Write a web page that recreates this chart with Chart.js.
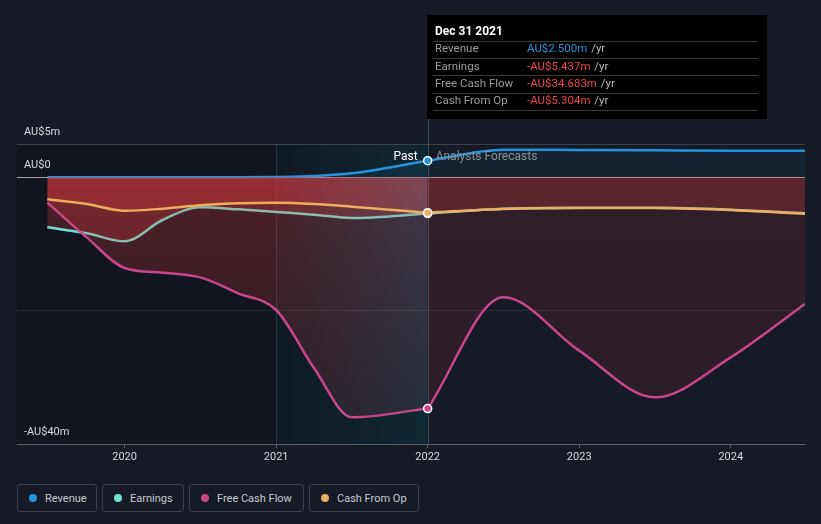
<!DOCTYPE html>
<html>
<head>
<meta charset="utf-8">
<script src="https://cdn.jsdelivr.net/npm/chart.js@4.4.0/dist/chart.umd.min.js"></script>
<style>
  html, body { margin: 0; padding: 0; background: #151a24; }
  body { width: 821px; height: 524px; position: relative; overflow: hidden; font-family: Roboto, sans-serif; }
  #wrap { position: absolute; left: 0; top: 0; width: 821px; height: 480px; }
  #legend { position: absolute; left: 17px; top: 484px; display: flex; gap: 5px; }
  .item { box-sizing: border-box; height: 28px; border: 1px solid #3a3f49; border-radius: 3px;
          display: flex; align-items: center; padding-left: 11px; color: #c8cacf; font-size: 11px; }
  .dot { width: 8px; height: 8px; border-radius: 50%; margin-right: 8px; }
</style>
</head>
<body>
<div id="wrap"><canvas id="chart" width="821" height="480"></canvas></div>
<div id="legend"></div>
<script>
// values in AU$ millions, x in decimal years
const pastDates = [2019.49, 2019.75, 2020.0, 2020.25, 2020.5, 2020.75, 2021.0, 2021.25, 2021.5, 2022.0];
const forecastDates = [2022.0, 2022.5, 2023.0, 2023.5, 2024.0, 2024.49];

const revenuePast = [0, 0, 0, 0, 0, 0, 0.05, 0.2, 0.6, 2.5];
const revenueForecast = [2.5, 4.15, 4.1, 4.05, 4.0, 3.97];
const earningsPast = [-7.5, -8.4, -9.6, -6.4, -4.5, -4.8, -5.2, -5.6, -6.1, -5.437];
const earningsForecast = [-5.437, -4.7, -4.55, -4.55, -4.85, -5.4];
const fcfPast = [-3.8, -9.0, -13.6, -14.3, -15.0, -17.4, -19.9, -28.6, -36.0, -34.683];
const fcfForecast = [-34.683, -18.0, -26.0, -33.0, -27.0, -19.0];
const cfoPast = [-3.3, -4.0, -5.0, -4.7, -4.2, -3.9, -3.8, -4.0, -4.4, -5.304];
const cfoForecast = [-5.304, -4.75, -4.6, -4.6, -4.9, -5.45];

const seriesNames = ['Revenue', 'Earnings', 'Free Cash Flow', 'Cash From Op'];
const seriesColors = ['#2394df', '#6fe3d4', '#c8478b', '#ebaf5f'];
const legendWidths = [80, 82, 115, 110];

const yTicks = [5, 0, -20, -40];
const yLabels = ['AU$5m', 'AU$0', '', '-AU$40m'];
const xTicks = [2020, 2021, 2022, 2023, 2024];
const tooltipTitle = 'Dec 31 2021';
const highlightStart = 2021.0;
const pastEnd = 2022.0;

// legend
const legend = document.getElementById('legend');
seriesNames.forEach((name, i) => {
  const item = document.createElement('div');
  item.className = 'item';
  item.style.width = legendWidths[i] + 'px';
  const dot = document.createElement('span');
  dot.className = 'dot';
  dot.style.background = seriesColors[i];
  item.appendChild(dot);
  const label = document.createElement('span');
  label.textContent = name;
  item.appendChild(label);
  legend.appendChild(item);
});

function pts(dates, vals) {
  return dates.map((d, i) => ({ x: d, y: vals[i] }));
}

const fillCache = {};
function redFill(past) {
  return ctx => {
    const chart = ctx.chart;
    const area = chart.chartArea;
    if (!area || !chart.scales.y) return 'rgba(0,0,0,0)';
    const key = (past ? 'p' : 'f') + area.top + '_' + area.bottom;
    if (fillCache[key]) return fillCache[key];
    const c = document.createElement('canvas');
    c.width = chart.width;
    c.height = chart.height;
    const g = c.getContext('2d');
    const y0 = chart.scales.y.getPixelForValue(0);
    const v = g.createLinearGradient(0, y0, 0, area.bottom);
    if (past) {
      v.addColorStop(0, 'rgba(230,60,65,0.28)');
      v.addColorStop(1, 'rgba(230,60,65,0.12)');
    } else {
      v.addColorStop(0, 'rgba(230,60,65,0.13)');
      v.addColorStop(1, 'rgba(230,60,65,0.11)');
    }
    g.fillStyle = v;
    g.fillRect(0, 0, c.width, c.height);
    if (past) {
      const xs = chart.scales.x;
      const h = g.createLinearGradient(xs.getPixelForValue(highlightStart), 0, xs.getPixelForValue(pastEnd), 0);
      h.addColorStop(0, 'rgba(150,120,150,0)');
      h.addColorStop(1, 'rgba(150,120,150,0.5)');
      g.globalCompositeOperation = 'source-atop';
      g.fillStyle = h;
      g.fillRect(0, 0, c.width, c.height);
    }
    fillCache[key] = chart.ctx.createPattern(c, 'no-repeat');
    return fillCache[key];
  };
}

function lastPoint(r) {
  return ctx => (ctx.dataIndex === pastDates.length - 1 ? r : 0);
}

function series(label, data, color, order, fill, isPast) {
  return {
    label,
    data,
    borderColor: color,
    borderWidth: 2.5,
    backgroundColor: fill,
    fill: 'origin',
    order,
    cubicInterpolationMode: 'monotone',
    pointRadius: isPast ? lastPoint(4) : 0,
    pointBackgroundColor: color,
    pointBorderColor: '#ffffff',
    pointBorderWidth: 1.5
  };
}

const fmt = v => (v < 0 ? '-AU$' : 'AU$') + Math.abs(v).toFixed(3) + 'm';

const decor = {
  id: 'decor',
  beforeDraw(chart) {
    const { ctx, chartArea: a, scales: { x } } = chart;
    const xh = x.getPixelForValue(highlightStart);
    const xp = x.getPixelForValue(pastEnd);
    ctx.save();
    ctx.fillStyle = 'rgba(0,0,0,0.16)';
    ctx.fillRect(a.left, a.top, xp - a.left, a.bottom - a.top);
    const g = ctx.createLinearGradient(xh, 0, xp, 0);
    g.addColorStop(0, 'rgba(0,140,170,0.03)');
    g.addColorStop(1, 'rgba(0,140,170,0.16)');
    ctx.fillStyle = g;
    ctx.fillRect(xh, a.top, xp - xh, a.bottom - a.top);
    ctx.restore();
  },
  beforeDatasetsDraw(chart) {
    const { ctx, chartArea: a, scales: { x } } = chart;
    const xh = Math.round(x.getPixelForValue(highlightStart)) + 0.5;
    const xp = Math.round(x.getPixelForValue(pastEnd)) + 0.5;
    ctx.save();
    ctx.lineWidth = 1;
    ctx.strokeStyle = 'rgba(70,120,140,0.35)';
    ctx.beginPath();
    ctx.moveTo(xh, a.top);
    ctx.lineTo(xh, a.bottom);
    ctx.stroke();
    ctx.strokeStyle = 'rgba(90,140,160,0.45)';
    ctx.beginPath();
    ctx.moveTo(xp, 119);
    ctx.lineTo(xp, a.bottom);
    ctx.stroke();
    ctx.restore();
  },
  afterDatasetsDraw(chart) {
    const { ctx, scales: { x, y } } = chart;
    const xp = x.getPixelForValue(pastEnd);
    const ty = y.getPixelForValue(revenuePast[revenuePast.length - 1]) - 4;
    ctx.save();
    ctx.font = '12px Roboto';
    ctx.textBaseline = 'middle';
    ctx.textAlign = 'right';
    ctx.fillStyle = '#ffffff';
    ctx.fillText('Past', xp - 10, ty);
    ctx.textAlign = 'left';
    ctx.fillStyle = '#8c9097';
    ctx.fillText('Analysts Forecasts', xp + 8, ty);
    ctx.restore();
  },
  afterDraw(chart) {
    const ctx = chart.ctx;
    const i = pastDates.length - 1;
    const rows = [
      [seriesNames[0], revenuePast[i]],
      [seriesNames[1], earningsPast[i]],
      [seriesNames[2], fcfPast[i]],
      [seriesNames[3], cfoPast[i]]
    ];
    ctx.save();
    ctx.fillStyle = '#000000';
    ctx.fillRect(427, 15, 340, 104);
    ctx.textBaseline = 'middle';
    ctx.textAlign = 'left';
    ctx.font = 'bold 12px Roboto';
    ctx.fillStyle = '#ffffff';
    ctx.fillText(tooltipTitle, 435, 31.5);
    ctx.strokeStyle = '#3a3a3a';
    ctx.lineWidth = 1;
    [41.5, 58.5, 75.5, 93.5, 110.5].forEach(ly => {
      ctx.beginPath();
      ctx.moveTo(433, ly);
      ctx.lineTo(758, ly);
      ctx.stroke();
    });
    ctx.font = '11.5px Roboto';
    rows.forEach((r, k) => {
      const ry = 49.5 + k * 17.2;
      ctx.fillStyle = '#9a9ca0';
      ctx.fillText(r[0], 435, ry);
      const val = fmt(r[1]);
      ctx.fillStyle = r[1] < 0 ? '#ee4449' : '#2394df';
      ctx.fillText(val, 527, ry);
      const w = ctx.measureText(val).width;
      ctx.fillStyle = '#b8babe';
      ctx.fillText(' /yr', 527 + w + 1, ry);
    });
    ctx.restore();
  }
};

const blueFill = 'rgba(35,148,223,0.08)';

new Chart(document.getElementById('chart'), {
  type: 'line',
  data: {
    datasets: [
      series('Revenue', pts(pastDates, revenuePast), seriesColors[0], 4, blueFill, true),
      series('Revenue forecast', pts(forecastDates, revenueForecast), seriesColors[0], 4, blueFill, false),
      series('Earnings', pts(pastDates, earningsPast), seriesColors[1], 3, redFill(true), true),
      series('Earnings forecast', pts(forecastDates, earningsForecast), seriesColors[1], 3, redFill(false), false),
      series('Free Cash Flow', pts(pastDates, fcfPast), seriesColors[2], 2, redFill(true), true),
      series('Free Cash Flow forecast', pts(forecastDates, fcfForecast), seriesColors[2], 2, redFill(false), false),
      series('Cash From Op', pts(pastDates, cfoPast), seriesColors[3], 1, redFill(true), true),
      series('Cash From Op forecast', pts(forecastDates, cfoForecast), seriesColors[3], 1, redFill(false), false)
    ]
  },
  options: {
    responsive: false,
    animation: false,
    events: [],
    layout: { padding: { top: 144, left: 17, right: 16, bottom: 0 } },
    plugins: { legend: { display: false }, tooltip: { enabled: false } },
    scales: {
      x: {
        type: 'linear',
        min: 2019.29,
        max: 2024.49,
        afterBuildTicks: s => { s.ticks = xTicks.map(v => ({ value: v })); },
        afterFit: s => { s.height = 36; },
        ticks: {
          color: '#d9dadd',
          font: { family: 'Roboto', size: 11 },
          padding: 3,
          maxRotation: 0,
          autoSkip: false,
          callback: v => String(v)
        },
        grid: { drawOnChartArea: false, drawTicks: true, tickLength: 4, color: '#5b5f67' },
        border: { display: true, color: '#5b5f67' }
      },
      y: {
        min: -40,
        max: 5,
        afterBuildTicks: s => { s.ticks = yTicks.map(v => ({ value: v })); },
        afterFit: s => { s.width = 0; },
        ticks: {
          mirror: true,
          padding: 7,
          labelOffset: -12,
          color: '#d9dadd',
          font: { family: 'Roboto', size: 11 },
          callback: v => yLabels[yTicks.indexOf(v)]
        },
        grid: {
          drawTicks: false,
          color: c => {
            const v = c.tick && c.tick.value;
            if (v === 0) return '#a3a5aa';
            if (v === -40) return '#5b5f67';
            if (v === 5) return '#3c4048';
            return 'rgba(255,255,255,0.09)';
          }
        },
        border: { display: false }
      }
    }
  },
  plugins: [decor]
});
</script>
</body>
</html>
